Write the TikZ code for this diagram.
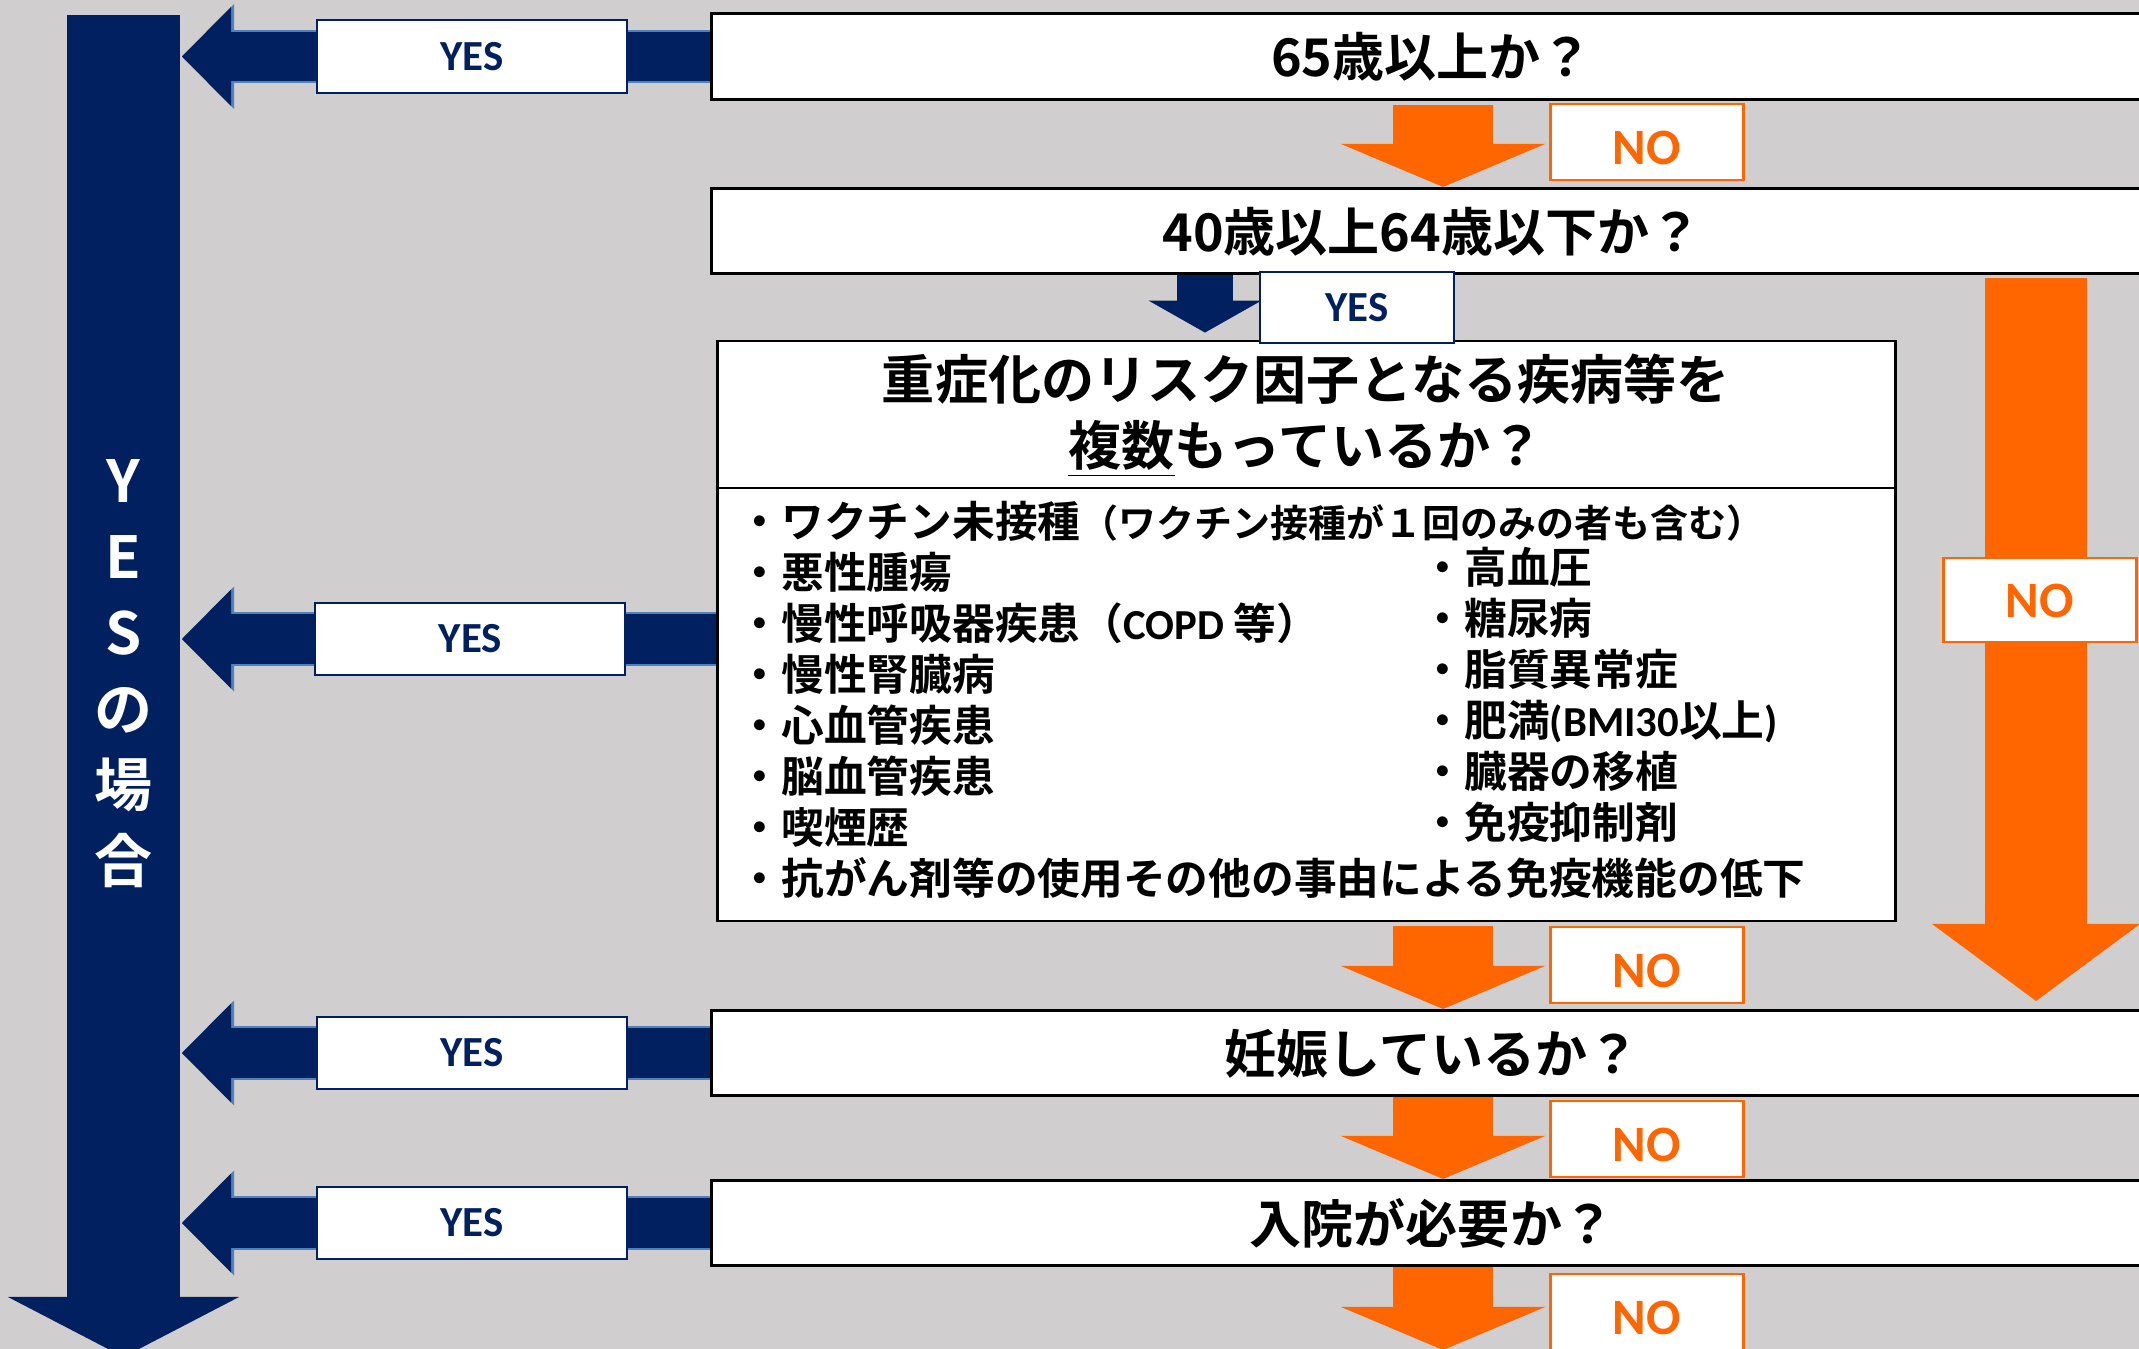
\documentclass[tikz,border=0pt]{standalone}
\usepackage{fontspec}
\setmainfont{Noto Sans CJK JP}[BoldFont={* Bold}]
\newfontfamily\calibri{Carlito}
\usetikzlibrary{arrows.meta,positioning}
\definecolor{navyblue}{RGB}{0,32,96}
\definecolor{edgeblue}{RGB}{79,129,189}
\definecolor{noorange}{RGB}{255,102,0}
\definecolor{slidegray}{RGB}{208,206,207}
\tikzset{
  question box/.style={
    rectangle, draw=black, line width=0.3mm, fill=white, anchor=west,
    minimum width=14.4cm, minimum height=0.85cm, inner sep=0pt,
    text height=0.46cm, text depth=0.06cm,
    font=\fontsize{14.8}{17.8}\selectfont\bfseries
  },
  risk box/.style={
    rectangle, draw=black, line width=0.25mm, fill=white,
    minimum width=11.77cm, minimum height=5.8cm, inner sep=0pt
  },
  risk title/.style={align=center, inner sep=0pt,
    font=\fontsize{15.1}{18.8}\selectfont\bfseries},
  risk item/.style={anchor=west, inner sep=0pt,
    text height=0.37cm, text depth=0.05cm,
    font=\fontsize{12.15}{14}\selectfont\bfseries},
  yes label/.style={rectangle, draw=navyblue, line width=0.2mm, fill=white,
    minimum width=3.1cm, minimum height=0.72cm, inner sep=0pt,
    text=navyblue, font=\calibri\bfseries\fontsize{12.2}{14}\selectfont},
  no label/.style={rectangle, draw=noorange, line width=0.25mm, fill=white,
    minimum width=1.93cm, minimum height=0.76cm, inner sep=0pt,
    text height=0.45cm, text depth=0cm,
    text=noorange, font=\calibri\bfseries\fontsize{14.5}{17}\selectfont},
  yes arrow/.style={navyblue, line width=0.49cm,
    -{Triangle[length=0.49cm, width=0.99cm, line width=0pt]},
    preaction={draw=edgeblue, line width=0.53cm,
      -{Triangle[length=0.52cm, width=1.05cm, line width=0pt]}}},
  yes drop/.style={navyblue, line width=0.55cm,
    -{Triangle[length=0.32cm, width=1.13cm, line width=0pt]}},
  yes trunk/.style={navyblue, line width=1.13cm,
    -{Triangle[length=0.6cm, width=2.31cm, line width=0pt]}},
  no arrow/.style={noorange, line width=1.0cm,
    -{Triangle[length=0.43cm, width=2.04cm, line width=0pt]}},
  no trunk/.style={noorange, line width=1.02cm,
    -{Triangle[length=0.77cm, width=2.08cm, line width=0pt]}},
  yes side/.style={align=center, inner sep=0pt, text=white,
    font=\fontsize{16.5}{21.6}\selectfont\bfseries}
}

\begin{document}
\begin{tikzpicture}[x=0.01cm, y=-0.01cm]
  % slide background
  \fill[slidegray] (0,0) rectangle (2139,1349);
  \useasboundingbox (0,0) rectangle (2139,1349);

  \coordinate (ytop) at (123.5,15);
  \coordinate (ybot) at (123.5,1357);
  \coordinate (yesedge) at (182,0);
  \coordinate (mid) at (1443,0);
  \coordinate (side) at (2036,0);
  \coordinate (drop) at (1205,0);
  \coordinate (exit) at (1443,1350);

  % YES trunk on the left
  \draw[yes trunk] (ytop) -- (ybot);
  \node[yes side] (yesside) at (123.5,674) {Y\\E\\S\\の\\場\\合};

  % questions
  \node[question box] (q1) at (710,56.5) {65歳以上か？};
  \node[question box] (q2) at (710,231) {40歳以上64歳以下か？};
  \node[risk box] (risk) at (1306.5,631) {};
  \node[question box] (q4) at (710,1053) {妊娠しているか？};
  \node[question box] (q5) at (710,1223) {入院が必要か？};

  \node[risk title] (risktitle) at (1306,416)
    {重症化のリスク因子となる疾病等を\\\underline{複数}もっているか？};
  \draw[line width=0.25mm] (risk.west |- 0,488) -- (risk.east |- 0,488);

  \foreach \disease [count=\i from 0] in {%
      ワクチン未接種{\fontsize{10.8}{12}\selectfont （ワクチン接種が１回のみの者も含む）},
      悪性腫瘍, 慢性呼吸器疾患（{\calibri COPD} 等）, 慢性腎臓病, 心血管疾患,
      脳血管疾患, 喫煙歴, 抗がん剤等の使用その他の事由による免疫機能の低下}
    \node[risk item] (left\i) at (738,521+51.1*\i) {・\disease};
  \foreach \disease [count=\i from 1] in {%
      高血圧, 糖尿病, 脂質異常症, 肥満{\calibri (BMI30}以上{\calibri )},
      臓器の移植, 免疫抑制剤}
    \node[risk item] (right\i) at (1421,516+51.1*\i) {・\disease};

  % YES branches
  \coordinate (riskyes) at ([yshift=-0.08cm]risk.west);
  \draw[yes arrow] (q1.west) -- (q1.west -| yesedge);
  \draw[yes arrow] (riskyes) -- (riskyes -| yesedge);
  \draw[yes arrow] (q4.west) -- (q4.west -| yesedge);
  \draw[yes arrow] (q5.west) -- (q5.west -| yesedge);
  \node[yes label, left=0.82cm of q1.west] (yes1) {YES};
  \node[yes label, left=0.9cm of riskyes] (yes2) {YES};
  \node[yes label, left=0.82cm of q4.west] (yes3) {YES};
  \node[yes label, left=0.82cm of q5.west] (yes4) {YES};

  \draw[yes drop, shorten >=0.07cm] (q2.south -| drop) -- (risk.north -| drop);
  \node[yes label, minimum width=1.94cm, minimum height=0.71cm] (yes5) at (1357,307.5) {YES};

  % NO branches
  \draw[no arrow, shorten <=0.04cm] (q1.south -| mid) -- (q2.north -| mid);
  \draw[no arrow, shorten <=0.04cm] (risk.south -| mid) -- (q4.north -| mid);
  \draw[no arrow] (q4.south -| mid) -- (q5.north -| mid);
  \draw[no arrow] (q5.south -| mid) -- (exit);
  \draw[no trunk, shorten <=0.03cm, shorten >=0.08cm] (q2.south -| side) -- (q4.north -| side);

  \node[no label, anchor=west] (no1) at (1549,142) {NO};
  \node[no label, anchor=west] (no2) at (1549,965) {NO};
  \node[no label, anchor=west] (no3) at (1549,1139) {NO};
  \node[no label, anchor=west] (no4) at (1549,1312) {NO};
  \node[no label, minimum height=0.84cm, text height=0.34cm] (no5) at (2040,600) {NO};
\end{tikzpicture}
\end{document}
